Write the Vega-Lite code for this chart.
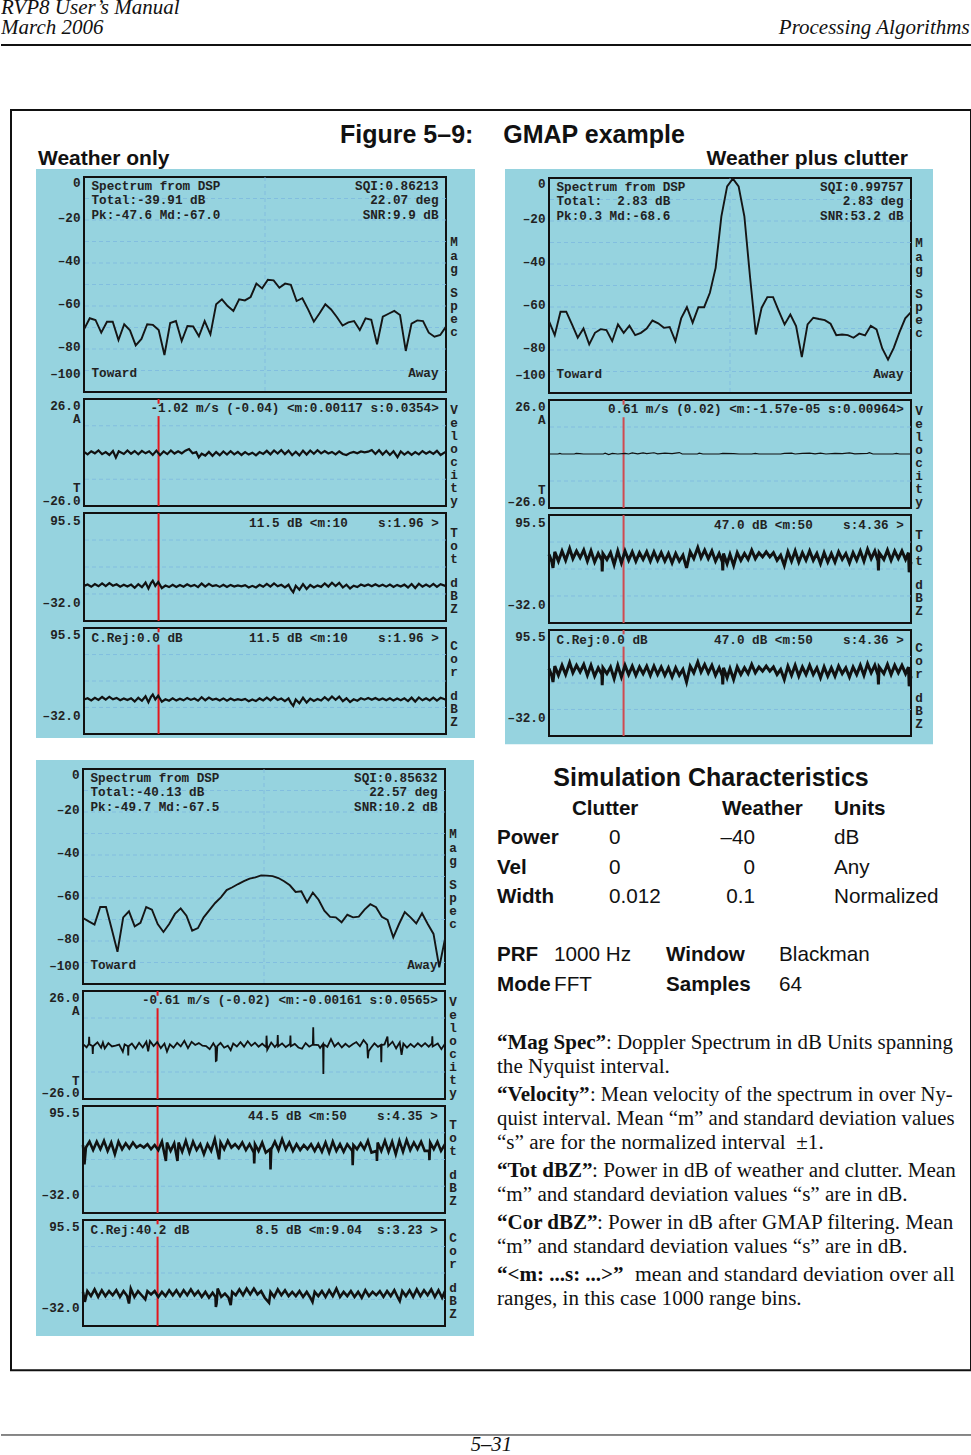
{"$schema":"https://vega.github.io/schema/vega-lite/v6.json","padding":0,"background":"white",
"config":{"text":{"baseline":"alphabetic"},"view":{"stroke":"#111","strokeWidth":2},"axis":{"domain":false,"ticks":false,"grid":false,"labelFont":"Liberation Mono","labelFontWeight":"bold","labelFontSize":12.65,"labelColor":"#222","labelPadding":4,"labelOverlap":false,"labelFlush":false,"labelBound":false},
"style":{"g":{"color":"#7db9de","strokeDash":[4,3],"strokeWidth":1,"opacity":0.8},"r":{"color":"#e3171d","strokeWidth":2},"t":{"color":"#111","strokeWidth":2.2},"m":{"color":"#151515","strokeWidth":1.9}}},
"datasets":{
"gm":[{"v":-10},{"v":-20},{"v":-30},{"v":-40},{"v":-50},{"v":-60},{"v":-70},{"v":-80},{"v":-90}],
"gx":[{"bin":31.5}],
"gv":[{"v":13},{"v":-13}],
"gp":[{"v":63.6},{"v":31.75},{"v":-0.1}],
"rv":[{"bin":206,"v":26,"v2":23.7},{"bin":206,"v":17.7,"v2":-26}],
"rp":[{"bin":206,"v":95.5,"v2":-32}],
"rc":[{"bin":206,"v":95.5,"v2":90.3},{"bin":206,"v":75.5,"v2":-32}],
"sm":[{"bin":63,"v":-27.6,"t":["M","a","g"]},{"bin":63,"v":-51,"t":["S","p","e","c"]}],
"sv":[{"bin":1000,"v":23.4,"t":["V","e","l","o","c","i","t","y"]}],
"sp":[{"bin":1000,"v":79.5,"t":["T","o","t"]},{"bin":1000,"v":19.9,"t":["d","B","Z"]}],
"sc":[{"bin":1000,"v":80.5,"t":["C","o","r"]},{"bin":1000,"v":20.5,"t":["d","B","Z"]}],
"L":[
{"p":"am","bin":1.3,"v":-1.5,"t":["Spectrum from DSP","Total:-39.91 dB","Pk:-47.6 Md:-67.0"]},{"p":"am","bin":1.3,"v":-88.5,"t":"Toward"},
{"p":"bm","bin":1.3,"v":-1.5,"t":["Spectrum from DSP","Total:\u00a0\u00a02.83 dB","Pk:0.3 Md:-68.6"]},{"p":"bm","bin":1.3,"v":-88.5,"t":"Toward"},
{"p":"cm","bin":1.3,"v":-1.5,"t":["Spectrum from DSP","Total:-40.13 dB","Pk:-49.7 Md:-67.5"]},{"p":"cm","bin":1.3,"v":-88.5,"t":"Toward"},
{"p":"ac","bin":21,"v":91,"t":"C.Rej:0.0 dB"},{"p":"bc","bin":21,"v":91,"t":"C.Rej:0.0 dB"},{"p":"cc","bin":21,"v":91,"t":"C.Rej:40.2 dB"}],
"R":[
{"p":"am","bin":61.7,"v":-1.5,"t":["SQI:0.86213","22.07 deg","SNR:9.9 dB"]},{"p":"am","bin":61.7,"v":-88.5,"t":"Away"},
{"p":"bm","bin":61.7,"v":-1.5,"t":["SQI:0.99757","2.83 deg","SNR:53.2 dB"]},{"p":"bm","bin":61.7,"v":-88.5,"t":"Away"},
{"p":"cm","bin":61.7,"v":-1.5,"t":["SQI:0.85632","22.57 deg","SNR:10.2 dB"]},{"p":"cm","bin":61.7,"v":-88.5,"t":"Away"},
{"p":"av","bin":980,"v":24.4,"t":"-1.02 m/s (-0.04) <m:0.00117 s:0.0354>"},
{"p":"ap","bin":980,"v":91,"t":"11.5 dB <m:10\u00a0\u00a0\u00a0\u00a0s:1.96 >"},{"p":"ac","bin":980,"v":91,"t":"11.5 dB <m:10\u00a0\u00a0\u00a0\u00a0s:1.96 >"},
{"p":"bv","bin":980,"v":24.4,"t":"0.61 m/s (0.02) <m:-1.57e-05 s:0.00964>"},
{"p":"bp","bin":980,"v":91,"t":"47.0 dB <m:50\u00a0\u00a0\u00a0\u00a0s:4.36 >"},{"p":"bc","bin":980,"v":91,"t":"47.0 dB <m:50\u00a0\u00a0\u00a0\u00a0s:4.36 >"},
{"p":"cv","bin":980,"v":24.4,"t":"-0.61 m/s (-0.02) <m:-0.00161 s:0.0565>"},
{"p":"cp","bin":980,"v":91,"t":"44.5 dB <m:50\u00a0\u00a0\u00a0\u00a0s:4.35 >"},{"p":"cc","bin":980,"v":91,"t":"8.5 dB <m:9.04\u00a0\u00a0s:3.23 >"}],
"am":[{"bin":0,"v":-70.9},{"bin":1,"v":-65.7},{"bin":2,"v":-66.5},{"bin":3,"v":-72.4},{"bin":4,"v":-67.3},{"bin":5,"v":-67.3},{"bin":6,"v":-75.8},{"bin":7,"v":-68.5},{"bin":8,"v":-71.3},{"bin":9,"v":-78.3},{"bin":10,"v":-75.3},{"bin":11,"v":-68.5},{"bin":12,"v":-68.8},{"bin":13,"v":-71.2},{"bin":14,"v":-82.8},{"bin":15,"v":-67.9},{"bin":16,"v":-67},{"bin":17,"v":-76.3},{"bin":18,"v":-69.3},{"bin":19,"v":-69.5},{"bin":20,"v":-74.1},{"bin":21,"v":-67},{"bin":22,"v":-73.2},{"bin":23,"v":-59.2},{"bin":24,"v":-56.9},{"bin":25,"v":-60},{"bin":26,"v":-62.3},{"bin":27,"v":-56.9},{"bin":28,"v":-57.4},{"bin":29,"v":-55.8},{"bin":30,"v":-49.6},{"bin":31,"v":-51.8},{"bin":32,"v":-47.8},{"bin":33,"v":-48.1},{"bin":34,"v":-51.5},{"bin":35,"v":-49.6},{"bin":36,"v":-50.2},{"bin":37,"v":-57.7},{"bin":38,"v":-56.4},{"bin":39,"v":-61.6},{"bin":40,"v":-67.3},{"bin":41,"v":-63.4},{"bin":42,"v":-59.2},{"bin":43,"v":-61.6},{"bin":44,"v":-65.1},{"bin":45,"v":-69.1},{"bin":46,"v":-67.6},{"bin":47,"v":-67},{"bin":48,"v":-71.2},{"bin":49,"v":-65.7},{"bin":50,"v":-66.4},{"bin":51,"v":-77.8},{"bin":52,"v":-65},{"bin":53,"v":-63.6},{"bin":54,"v":-62.3},{"bin":55,"v":-64.2},{"bin":56,"v":-80.9},{"bin":57,"v":-68.2},{"bin":58,"v":-66.7},{"bin":59,"v":-67},{"bin":60,"v":-72.4},{"bin":61,"v":-74.3},{"bin":62,"v":-73.5},{"bin":63,"v":-69.6}],
"bm":[{"bin":0,"v":-66.6},{"bin":1,"v":-73.1},{"bin":2,"v":-62.2},{"bin":3,"v":-62.2},{"bin":4,"v":-68.1},{"bin":5,"v":-74.3},{"bin":6,"v":-70},{"bin":7,"v":-77.4},{"bin":8,"v":-72},{"bin":9,"v":-70.3},{"bin":10,"v":-70.7},{"bin":11,"v":-75.9},{"bin":12,"v":-68.1},{"bin":13,"v":-72},{"bin":14,"v":-68.7},{"bin":15,"v":-73.1},{"bin":16,"v":-72},{"bin":17,"v":-70},{"bin":18,"v":-66.3},{"bin":19,"v":-67.6},{"bin":20,"v":-69.7},{"bin":21,"v":-69.3},{"bin":22,"v":-75.9},{"bin":23,"v":-65.3},{"bin":24,"v":-60.1},{"bin":25,"v":-67.3},{"bin":26,"v":-60.1},{"bin":27,"v":-60.1},{"bin":28,"v":-53.4},{"bin":29,"v":-41.8},{"bin":30,"v":-17.8},{"bin":31,"v":-3.9},{"bin":32,"v":-0.3},{"bin":33,"v":-3.9},{"bin":34,"v":-17.8},{"bin":35,"v":-46.4},{"bin":36,"v":-72.8},{"bin":37,"v":-60.4},{"bin":38,"v":-55.4},{"bin":39,"v":-55.4},{"bin":40,"v":-61.9},{"bin":41,"v":-68.1},{"bin":42,"v":-63.5},{"bin":43,"v":-68.9},{"bin":44,"v":-83.3},{"bin":45,"v":-68.1},{"bin":46,"v":-65},{"bin":47,"v":-65.6},{"bin":48,"v":-66.1},{"bin":49,"v":-67.8},{"bin":50,"v":-73.1},{"bin":51,"v":-72.8},{"bin":52,"v":-73.1},{"bin":53,"v":-74.3},{"bin":54,"v":-72.4},{"bin":55,"v":-73.2},{"bin":56,"v":-68.7},{"bin":57,"v":-70.4},{"bin":58,"v":-79.3},{"bin":59,"v":-84.5},{"bin":60,"v":-79},{"bin":61,"v":-71.7},{"bin":62,"v":-65.3},{"bin":63,"v":-62.4}],
"cm":[{"bin":0,"v":-69.3},{"bin":1,"v":-70.9},{"bin":2,"v":-72.4},{"bin":3,"v":-64.2},{"bin":4,"v":-64.2},{"bin":5,"v":-74.4},{"bin":6,"v":-85},{"bin":7,"v":-69},{"bin":8,"v":-66.2},{"bin":9,"v":-73.2},{"bin":10,"v":-71.6},{"bin":11,"v":-64.2},{"bin":12,"v":-65.4},{"bin":13,"v":-72.1},{"bin":14,"v":-75.8},{"bin":15,"v":-72.1},{"bin":16,"v":-67.4},{"bin":17,"v":-64.8},{"bin":18,"v":-68.2},{"bin":19,"v":-75.2},{"bin":20,"v":-74},{"bin":21,"v":-69},{"bin":22,"v":-65.6},{"bin":23,"v":-62.3},{"bin":24,"v":-59.7},{"bin":25,"v":-56.3},{"bin":26,"v":-55},{"bin":27,"v":-53.5},{"bin":28,"v":-52.2},{"bin":29,"v":-51},{"bin":30,"v":-50.4},{"bin":31,"v":-49.5},{"bin":32,"v":-49.6},{"bin":33,"v":-49.8},{"bin":34,"v":-50.7},{"bin":35,"v":-52.2},{"bin":36,"v":-54.1},{"bin":37,"v":-57.2},{"bin":38,"v":-56.9},{"bin":39,"v":-62},{"bin":40,"v":-57.5},{"bin":41,"v":-60.8},{"bin":42,"v":-65.9},{"bin":43,"v":-68.8},{"bin":44,"v":-69},{"bin":45,"v":-71.3},{"bin":46,"v":-67.8},{"bin":47,"v":-69},{"bin":48,"v":-68.7},{"bin":49,"v":-65.4},{"bin":50,"v":-62.9},{"bin":51,"v":-64.3},{"bin":52,"v":-68.7},{"bin":53,"v":-70.2},{"bin":54,"v":-78.3},{"bin":55,"v":-72.1},{"bin":56,"v":-66.5},{"bin":57,"v":-69},{"bin":58,"v":-71.8},{"bin":59,"v":-67.1},{"bin":60,"v":-72.1},{"bin":61,"v":-76.7},{"bin":62,"v":-92.2},{"bin":63,"v":-79}],
"av":[{"bin":0,"v":0.3},{"bin":10,"v":-0.9},{"bin":20,"v":0.6},{"bin":30,"v":-0.4},{"bin":40,"v":1},{"bin":50,"v":-0.8},{"bin":60,"v":0.2},{"bin":70,"v":-1.2},{"bin":80,"v":0.7},{"bin":88,"v":-2.5},{"bin":96,"v":0.6},{"bin":110,"v":-0.7},{"bin":120,"v":1},{"bin":130,"v":-0.6},{"bin":140,"v":0.7},{"bin":150,"v":-0.9},{"bin":160,"v":0.8},{"bin":170,"v":-0.4},{"bin":180,"v":0.6},{"bin":190,"v":-1.2},{"bin":200,"v":0.9},{"bin":210,"v":-1.3},{"bin":220,"v":0.5},{"bin":230,"v":-0.8},{"bin":240,"v":1},{"bin":250,"v":-0.5},{"bin":260,"v":0.6},{"bin":270,"v":-0.4},{"bin":280,"v":0.9},{"bin":290,"v":1.7},{"bin":300,"v":-0.4},{"bin":310,"v":0.2},{"bin":317,"v":-2.4},{"bin":325,"v":-0.6},{"bin":335,"v":-1.5},{"bin":345,"v":0.3},{"bin":355,"v":-1.6},{"bin":365,"v":0.2},{"bin":375,"v":-1.3},{"bin":385,"v":0.5},{"bin":395,"v":-1},{"bin":405,"v":0.6},{"bin":415,"v":-0.9},{"bin":425,"v":0.3},{"bin":435,"v":-1.2},{"bin":445,"v":0.2},{"bin":455,"v":-1},{"bin":465,"v":-0.1},{"bin":475,"v":-1.4},{"bin":485,"v":0.2},{"bin":495,"v":-0.7},{"bin":505,"v":0.8},{"bin":515,"v":-0.9},{"bin":525,"v":1},{"bin":535,"v":-0.5},{"bin":545,"v":1.2},{"bin":555,"v":-0.8},{"bin":565,"v":0.9},{"bin":575,"v":-1.3},{"bin":585,"v":0.4},{"bin":595,"v":-1.4},{"bin":605,"v":0.9},{"bin":615,"v":-1},{"bin":625,"v":1},{"bin":635,"v":-0.6},{"bin":645,"v":1.1},{"bin":655,"v":-0.4},{"bin":665,"v":0.7},{"bin":675,"v":-0.5},{"bin":685,"v":0.3},{"bin":695,"v":-0.9},{"bin":705,"v":0.5},{"bin":715,"v":-0.7},{"bin":725,"v":-1.2},{"bin":735,"v":-0.2},{"bin":745,"v":0.3},{"bin":755,"v":-0.4},{"bin":765,"v":0.5},{"bin":775,"v":0.1},{"bin":785,"v":0.4},{"bin":795,"v":1.2},{"bin":805,"v":-0.7},{"bin":815,"v":1.1},{"bin":825,"v":-1},{"bin":835,"v":0.8},{"bin":845,"v":-1.2},{"bin":855,"v":0.6},{"bin":866,"v":-2.3},{"bin":875,"v":0.5},{"bin":885,"v":-1},{"bin":895,"v":0.3},{"bin":905,"v":-1.1},{"bin":915,"v":0.2},{"bin":925,"v":-0.9},{"bin":935,"v":0.7},{"bin":945,"v":-0.6},{"bin":955,"v":0.5},{"bin":965,"v":-0.7},{"bin":975,"v":0.8},{"bin":985,"v":-1.2},{"bin":1000,"v":0.4}],
"ap":[{"bin":0,"v":9.5},{"bin":10,"v":11},{"bin":20,"v":8.4},{"bin":30,"v":11.6},{"bin":40,"v":9},{"bin":50,"v":12.5},{"bin":60,"v":9.3},{"bin":70,"v":12.8},{"bin":80,"v":9.7},{"bin":90,"v":11.4},{"bin":100,"v":8.6},{"bin":110,"v":10.8},{"bin":120,"v":8.8},{"bin":130,"v":11},{"bin":140,"v":7.2},{"bin":150,"v":11.5},{"bin":160,"v":8},{"bin":170,"v":13.4},{"bin":178,"v":6.3},{"bin":185,"v":12.7},{"bin":190,"v":15.5},{"bin":197,"v":9.5},{"bin":205,"v":14},{"bin":215,"v":6.8},{"bin":225,"v":9.8},{"bin":235,"v":8},{"bin":245,"v":10.8},{"bin":255,"v":8.2},{"bin":265,"v":10.5},{"bin":275,"v":8.5},{"bin":285,"v":11.4},{"bin":295,"v":9},{"bin":305,"v":10.6},{"bin":315,"v":8},{"bin":325,"v":12.2},{"bin":335,"v":8.6},{"bin":345,"v":11.8},{"bin":355,"v":9.2},{"bin":365,"v":10.4},{"bin":375,"v":8.3},{"bin":385,"v":10.8},{"bin":395,"v":8.1},{"bin":405,"v":10.6},{"bin":415,"v":8.6},{"bin":425,"v":10},{"bin":435,"v":8.9},{"bin":445,"v":10.3},{"bin":455,"v":7.5},{"bin":465,"v":9.5},{"bin":475,"v":7.6},{"bin":485,"v":10.8},{"bin":495,"v":8.4},{"bin":505,"v":11.8},{"bin":515,"v":8.5},{"bin":525,"v":12.3},{"bin":535,"v":9},{"bin":545,"v":10.7},{"bin":555,"v":7.6},{"bin":565,"v":10.8},{"bin":572,"v":5.2},{"bin":578,"v":1.8},{"bin":585,"v":9.5},{"bin":595,"v":5},{"bin":605,"v":11.6},{"bin":615,"v":5.8},{"bin":625,"v":10.5},{"bin":635,"v":7.7},{"bin":645,"v":10},{"bin":655,"v":8.3},{"bin":665,"v":12.3},{"bin":675,"v":8.6},{"bin":685,"v":13.2},{"bin":695,"v":9.2},{"bin":705,"v":13},{"bin":715,"v":7.5},{"bin":725,"v":10.9},{"bin":735,"v":6.4},{"bin":745,"v":9.7},{"bin":755,"v":8},{"bin":765,"v":11},{"bin":775,"v":9.3},{"bin":785,"v":11.2},{"bin":795,"v":9.1},{"bin":805,"v":11.4},{"bin":815,"v":9},{"bin":825,"v":10.8},{"bin":835,"v":8.6},{"bin":845,"v":11},{"bin":855,"v":8.2},{"bin":865,"v":10.6},{"bin":875,"v":8.7},{"bin":885,"v":10.9},{"bin":895,"v":7.6},{"bin":905,"v":11.7},{"bin":915,"v":7},{"bin":925,"v":12},{"bin":935,"v":8.6},{"bin":945,"v":11},{"bin":955,"v":8.4},{"bin":965,"v":11.8},{"bin":975,"v":8.2},{"bin":985,"v":11.5},{"bin":1000,"v":9.2}],
"bv":[{"bin":0,"v":0},{"bin":25,"v":0},{"bin":30,"v":0.3},{"bin":35,"v":0},{"bin":70,"v":0},{"bin":75,"v":0.3},{"bin":85,"v":0.2},{"bin":95,"v":0},{"bin":150,"v":0},{"bin":155,"v":0.4},{"bin":165,"v":-0.3},{"bin":175,"v":0.3},{"bin":190,"v":0},{"bin":210,"v":0.3},{"bin":220,"v":0},{"bin":230,"v":0.5},{"bin":245,"v":0.1},{"bin":260,"v":0.5},{"bin":270,"v":0.2},{"bin":290,"v":0.6},{"bin":300,"v":0.1},{"bin":320,"v":0.4},{"bin":340,"v":0.2},{"bin":360,"v":0.7},{"bin":368,"v":0},{"bin":410,"v":0},{"bin":415,"v":0.4},{"bin":425,"v":0},{"bin":470,"v":0},{"bin":480,"v":0.3},{"bin":510,"v":0.2},{"bin":525,"v":0},{"bin":560,"v":0},{"bin":570,"v":0.3},{"bin":580,"v":0},{"bin":640,"v":0},{"bin":650,"v":0.3},{"bin":670,"v":0.4},{"bin":680,"v":0},{"bin":700,"v":0.3},{"bin":720,"v":0.4},{"bin":735,"v":0.1},{"bin":750,"v":0.4},{"bin":765,"v":0},{"bin":790,"v":0.3},{"bin":810,"v":0.2},{"bin":830,"v":0.5},{"bin":845,"v":0.1},{"bin":880,"v":0.3},{"bin":885,"v":0.6},{"bin":895,"v":0},{"bin":950,"v":0},{"bin":960,"v":0.3},{"bin":968,"v":0},{"bin":1000,"v":0}],
"bp":[{"bin":0,"v":49},{"bin":8,"v":40},{"bin":11,"v":33},{"bin":16,"v":52},{"bin":26,"v":41},{"bin":36,"v":53},{"bin":46,"v":42},{"bin":57,"v":56},{"bin":66,"v":44},{"bin":76,"v":53},{"bin":86,"v":45},{"bin":96,"v":54},{"bin":106,"v":41},{"bin":116,"v":53},{"bin":126,"v":40},{"bin":136,"v":50},{"bin":146,"v":42},{"bin":147,"v":29},{"bin":149,"v":50},{"bin":160,"v":43},{"bin":170,"v":51},{"bin":180,"v":37},{"bin":190,"v":53},{"bin":200,"v":39},{"bin":210,"v":53},{"bin":220,"v":42},{"bin":230,"v":52},{"bin":240,"v":41},{"bin":250,"v":51},{"bin":260,"v":43},{"bin":270,"v":52},{"bin":280,"v":41},{"bin":290,"v":52},{"bin":300,"v":42},{"bin":310,"v":51},{"bin":320,"v":41},{"bin":330,"v":50},{"bin":340,"v":39},{"bin":350,"v":50},{"bin":360,"v":41},{"bin":370,"v":48},{"bin":380,"v":33},{"bin":390,"v":52},{"bin":400,"v":44},{"bin":411,"v":57},{"bin":420,"v":45},{"bin":430,"v":54},{"bin":440,"v":44},{"bin":450,"v":53},{"bin":460,"v":41},{"bin":470,"v":50},{"bin":479,"v":40},{"bin":480,"v":30},{"bin":482,"v":50},{"bin":492,"v":38},{"bin":500,"v":49},{"bin":510,"v":36},{"bin":520,"v":51},{"bin":530,"v":42},{"bin":540,"v":50},{"bin":550,"v":43},{"bin":560,"v":54},{"bin":570,"v":44},{"bin":580,"v":51},{"bin":590,"v":46},{"bin":600,"v":52},{"bin":610,"v":46},{"bin":620,"v":51},{"bin":630,"v":42},{"bin":640,"v":48},{"bin":650,"v":36},{"bin":660,"v":52},{"bin":670,"v":41},{"bin":680,"v":53},{"bin":690,"v":40},{"bin":700,"v":51},{"bin":710,"v":42},{"bin":720,"v":53},{"bin":730,"v":42},{"bin":740,"v":50},{"bin":750,"v":38},{"bin":760,"v":51},{"bin":770,"v":40},{"bin":780,"v":50},{"bin":790,"v":40},{"bin":800,"v":52},{"bin":810,"v":43},{"bin":820,"v":50},{"bin":830,"v":39},{"bin":840,"v":51},{"bin":850,"v":42},{"bin":860,"v":53},{"bin":870,"v":41},{"bin":880,"v":55},{"bin":890,"v":44},{"bin":900,"v":53},{"bin":909,"v":41},{"bin":910,"v":30},{"bin":912,"v":51},{"bin":925,"v":43},{"bin":935,"v":54},{"bin":945,"v":42},{"bin":955,"v":53},{"bin":965,"v":44},{"bin":975,"v":53},{"bin":985,"v":43},{"bin":993,"v":51},{"bin":995,"v":28},{"bin":1000,"v":40}],
"cv":[{"bin":0,"v":0.4},{"bin":10,"v":-1.1},{"bin":16,"v":0.5},{"bin":17,"v":4},{"bin":18,"v":0.3},{"bin":26,"v":-0.5},{"bin":27,"v":-4.3},{"bin":28,"v":-0.6},{"bin":40,"v":1.3},{"bin":50,"v":-1.3},{"bin":55,"v":1.2},{"bin":60,"v":-1.7},{"bin":70,"v":0.9},{"bin":80,"v":-0.7},{"bin":90,"v":-0.3},{"bin":100,"v":0.2},{"bin":110,"v":-3.2},{"bin":115,"v":0.3},{"bin":124,"v":-0.6},{"bin":125,"v":-5},{"bin":126,"v":-0.6},{"bin":135,"v":0.7},{"bin":145,"v":-1.7},{"bin":155,"v":1.1},{"bin":165,"v":-1.2},{"bin":175,"v":1.6},{"bin":180,"v":-3},{"bin":185,"v":1.9},{"bin":195,"v":-0.5},{"bin":205,"v":1.4},{"bin":215,"v":-1.5},{"bin":225,"v":0.7},{"bin":232,"v":-3.2},{"bin":240,"v":0.3},{"bin":250,"v":-1.3},{"bin":260,"v":1},{"bin":270,"v":-0.7},{"bin":280,"v":2},{"bin":290,"v":-1.5},{"bin":300,"v":1.5},{"bin":310,"v":0},{"bin":320,"v":0.9},{"bin":330,"v":-0.3},{"bin":340,"v":-0.5},{"bin":350,"v":-2},{"bin":360,"v":0.8},{"bin":366,"v":-1},{"bin":367,"v":-7.7},{"bin":369,"v":-7.5},{"bin":371,"v":-0.5},{"bin":380,"v":1},{"bin":390,"v":-1.3},{"bin":400,"v":-0.3},{"bin":408,"v":-2.5},{"bin":415,"v":0.7},{"bin":425,"v":-0.7},{"bin":435,"v":1.4},{"bin":445,"v":-0.8},{"bin":455,"v":1.8},{"bin":465,"v":-0.4},{"bin":475,"v":1.1},{"bin":485,"v":-0.8},{"bin":495,"v":0.6},{"bin":506,"v":-1},{"bin":507,"v":4.5},{"bin":509,"v":-2.3},{"bin":520,"v":1.2},{"bin":530,"v":-1},{"bin":537,"v":0.5},{"bin":538,"v":4.8},{"bin":539,"v":-0.7},{"bin":550,"v":0.8},{"bin":560,"v":-1},{"bin":572,"v":0.5},{"bin":573,"v":4.5},{"bin":574,"v":-0.6},{"bin":585,"v":0.5},{"bin":595,"v":-1.2},{"bin":605,"v":-1.8},{"bin":615,"v":0.9},{"bin":625,"v":-0.8},{"bin":635,"v":0.2},{"bin":636,"v":8.5},{"bin":637,"v":0.2},{"bin":650,"v":0},{"bin":655,"v":-1.4},{"bin":663,"v":0.5},{"bin":664,"v":-14},{"bin":665,"v":0.4},{"bin":675,"v":-0.9},{"bin":685,"v":2.8},{"bin":695,"v":-0.7},{"bin":705,"v":1},{"bin":715,"v":-1.2},{"bin":725,"v":0.6},{"bin":735,"v":-0.9},{"bin":745,"v":0.4},{"bin":755,"v":1.4},{"bin":765,"v":-0.6},{"bin":775,"v":2.4},{"bin":785,"v":0.2},{"bin":787,"v":-6.4},{"bin":789,"v":-3},{"bin":795,"v":-1.4},{"bin":805,"v":0.8},{"bin":815,"v":-0.9},{"bin":823,"v":0},{"bin":824,"v":-8.3},{"bin":825,"v":0},{"bin":833,"v":0.3},{"bin":841,"v":4},{"bin":843,"v":-0.6},{"bin":855,"v":1.6},{"bin":865,"v":-1.6},{"bin":875,"v":1.3},{"bin":880,"v":-4.8},{"bin":885,"v":0.7},{"bin":895,"v":-1.3},{"bin":905,"v":0.5},{"bin":915,"v":-1},{"bin":925,"v":0.8},{"bin":935,"v":-0.7},{"bin":945,"v":0.9},{"bin":955,"v":-0.8},{"bin":964,"v":0.8},{"bin":965,"v":4.2},{"bin":966,"v":-0.7},{"bin":980,"v":0.7},{"bin":990,"v":-2},{"bin":1000,"v":0.6}],
"cp":[{"bin":0,"v":49},{"bin":4,"v":26},{"bin":8,"v":46},{"bin":18,"v":53},{"bin":28,"v":43},{"bin":38,"v":53},{"bin":48,"v":44},{"bin":58,"v":54},{"bin":68,"v":42},{"bin":78,"v":52},{"bin":88,"v":38},{"bin":98,"v":53},{"bin":108,"v":44},{"bin":118,"v":51},{"bin":128,"v":45},{"bin":138,"v":52},{"bin":148,"v":46},{"bin":158,"v":49},{"bin":168,"v":46},{"bin":178,"v":50},{"bin":188,"v":44},{"bin":198,"v":49},{"bin":208,"v":43},{"bin":218,"v":53},{"bin":229,"v":30},{"bin":232,"v":52},{"bin":242,"v":42},{"bin":252,"v":51},{"bin":261,"v":30},{"bin":264,"v":52},{"bin":274,"v":41},{"bin":284,"v":54},{"bin":294,"v":40},{"bin":304,"v":53},{"bin":314,"v":43},{"bin":324,"v":50},{"bin":334,"v":38},{"bin":344,"v":50},{"bin":354,"v":42},{"bin":364,"v":56},{"bin":376,"v":32},{"bin":380,"v":52},{"bin":390,"v":44},{"bin":400,"v":54},{"bin":410,"v":46},{"bin":420,"v":50},{"bin":430,"v":45},{"bin":440,"v":52},{"bin":450,"v":43},{"bin":460,"v":50},{"bin":472,"v":40},{"bin":473,"v":27},{"bin":475,"v":50},{"bin":485,"v":42},{"bin":495,"v":52},{"bin":505,"v":40},{"bin":517,"v":44},{"bin":518,"v":20},{"bin":520,"v":44},{"bin":530,"v":53},{"bin":540,"v":43},{"bin":550,"v":56},{"bin":560,"v":44},{"bin":570,"v":52},{"bin":580,"v":42},{"bin":590,"v":50},{"bin":600,"v":43},{"bin":610,"v":49},{"bin":620,"v":44},{"bin":630,"v":50},{"bin":640,"v":42},{"bin":650,"v":50},{"bin":660,"v":41},{"bin":670,"v":52},{"bin":680,"v":40},{"bin":690,"v":53},{"bin":700,"v":42},{"bin":710,"v":50},{"bin":720,"v":41},{"bin":730,"v":50},{"bin":744,"v":42},{"bin":745,"v":25},{"bin":747,"v":49},{"bin":757,"v":44},{"bin":767,"v":51},{"bin":777,"v":44},{"bin":787,"v":54},{"bin":797,"v":40},{"bin":811,"v":42},{"bin":812,"v":30},{"bin":814,"v":52},{"bin":824,"v":42},{"bin":834,"v":54},{"bin":844,"v":41},{"bin":854,"v":53},{"bin":864,"v":38},{"bin":874,"v":54},{"bin":884,"v":41},{"bin":894,"v":55},{"bin":904,"v":43},{"bin":914,"v":52},{"bin":924,"v":44},{"bin":934,"v":53},{"bin":944,"v":42},{"bin":956,"v":42},{"bin":957,"v":31},{"bin":959,"v":52},{"bin":969,"v":44},{"bin":979,"v":53},{"bin":989,"v":42},{"bin":1000,"v":50}],
"cc":[{"bin":0,"v":9},{"bin":5,"v":-3},{"bin":12,"v":10},{"bin":22,"v":4},{"bin":32,"v":12},{"bin":42,"v":3},{"bin":52,"v":11},{"bin":62,"v":4},{"bin":72,"v":10},{"bin":82,"v":5},{"bin":92,"v":11},{"bin":102,"v":3},{"bin":112,"v":10},{"bin":122,"v":4},{"bin":127,"v":-5},{"bin":132,"v":13},{"bin":142,"v":3},{"bin":152,"v":10},{"bin":162,"v":5},{"bin":172,"v":0},{"bin":178,"v":10},{"bin":188,"v":6},{"bin":198,"v":10},{"bin":208,"v":3},{"bin":218,"v":9},{"bin":228,"v":4},{"bin":238,"v":11},{"bin":248,"v":5},{"bin":258,"v":11},{"bin":268,"v":4},{"bin":278,"v":11},{"bin":288,"v":5},{"bin":298,"v":12},{"bin":308,"v":5},{"bin":318,"v":10},{"bin":328,"v":3},{"bin":338,"v":9},{"bin":348,"v":2},{"bin":358,"v":8},{"bin":366,"v":3},{"bin":367,"v":-9},{"bin":369,"v":-5},{"bin":372,"v":13},{"bin":382,"v":3},{"bin":392,"v":7},{"bin":402,"v":2},{"bin":408,"v":-7},{"bin":412,"v":9},{"bin":422,"v":5},{"bin":432,"v":12},{"bin":442,"v":5},{"bin":452,"v":13},{"bin":462,"v":6},{"bin":472,"v":13},{"bin":482,"v":6},{"bin":492,"v":10},{"bin":502,"v":2},{"bin":514,"v":-4},{"bin":518,"v":9},{"bin":528,"v":3},{"bin":538,"v":12},{"bin":548,"v":5},{"bin":558,"v":11},{"bin":568,"v":4},{"bin":578,"v":9},{"bin":588,"v":4},{"bin":598,"v":10},{"bin":608,"v":3},{"bin":618,"v":9},{"bin":628,"v":2},{"bin":634,"v":-3},{"bin":640,"v":9},{"bin":650,"v":4},{"bin":660,"v":10},{"bin":670,"v":3},{"bin":680,"v":11},{"bin":690,"v":4},{"bin":700,"v":13},{"bin":710,"v":3},{"bin":720,"v":9},{"bin":730,"v":4},{"bin":740,"v":10},{"bin":750,"v":3},{"bin":760,"v":9},{"bin":770,"v":2},{"bin":780,"v":11},{"bin":790,"v":4},{"bin":800,"v":9},{"bin":810,"v":5},{"bin":820,"v":10},{"bin":830,"v":3},{"bin":840,"v":10},{"bin":850,"v":4},{"bin":860,"v":11},{"bin":870,"v":2},{"bin":875,"v":-2},{"bin":882,"v":10},{"bin":892,"v":4},{"bin":902,"v":11},{"bin":912,"v":3},{"bin":922,"v":12},{"bin":932,"v":4},{"bin":942,"v":11},{"bin":952,"v":5},{"bin":962,"v":12},{"bin":972,"v":3},{"bin":982,"v":11},{"bin":992,"v":2},{"bin":1000,"v":10}],
"T":[{"c":"h","line":0,"t":"Simulation Characteristics"},{"c":"b0","line":2,"t":"Power"},{"c":"b0","line":3,"t":"Vel"},{"c":"b0","line":4,"t":"Width"},{"c":"b0","line":6,"t":"PRF"},{"c":"b0","line":7,"t":"Mode"},{"c":"h1","line":1,"t":"Clutter"},{"c":"h2","line":1,"t":"Weather"},{"c":"h3","line":1,"t":"Units"},{"c":"r1","line":2,"t":"0"},{"c":"r1","line":3,"t":"0"},{"c":"r1","line":4,"t":"0.012"},{"c":"r2","line":2,"t":"–40"},{"c":"r2","line":3,"t":"0"},{"c":"r2","line":4,"t":"0.1"},{"c":"h3r","line":2,"t":"dB"},{"c":"h3r","line":3,"t":"Any"},{"c":"h3r","line":4,"t":"Normalized"},{"c":"v1","line":6,"t":"1000 Hz"},{"c":"v1","line":7,"t":"FFT"},{"c":"b2","line":6,"t":"Window"},{"c":"b2","line":7,"t":"Samples"},{"c":"v2","line":6,"t":"Blackman"},{"c":"v2","line":7,"t":"64"}],
"P":[{"line":0,"t":": Doppler Spectrum in dB Units spanning","c":"a"},{"line":0,"t":"“Mag Spec”","c":"A"},{"line":1,"t":"the Nyquist interval.","c":"n"},{"line":2.17,"t":": Mean velocity of the spectrum in over Ny-","c":"b"},{"line":2.17,"t":"“Velocity”","c":"A"},{"line":3.17,"t":"quist interval. Mean “m” and standard deviation values","c":"q"},{"line":4.17,"t":"“s” are for the normalized interval\u00a0 ±1.","c":"n"},{"line":5.33,"t":": Power in dB of weather and clutter. Mean","c":"d"},{"line":5.33,"t":"“Tot dBZ”","c":"A"},{"line":6.33,"t":"“m” and standard deviation values “s” are in dB.","c":"n"},{"line":7.5,"t":": Power in dB after GMAP filtering. Mean","c":"e"},{"line":7.5,"t":"“Cor dBZ”","c":"A"},{"line":8.5,"t":"“m” and standard deviation values “s” are in dB.","c":"n"},{"line":9.67,"t":"mean and standard deviation over all","c":"f"},{"line":9.67,"t":"“<m: ...s: ...>”","c":"A"},{"line":10.67,"t":"ranges, in this case 1000 range bins.","c":"n"}]
},
"spacing":55,
"vconcat":[
{"width":971,"height":45,"view":{"stroke":null},"encoding":{"x":{"datum":0,"type":"quantitative","scale":{"domain":[0,1]},"axis":null},"y":{"datum":0.689,"type":"quantitative","scale":{"domain":[0,1]},"axis":null}},"layer":[
{"data":{"values":[{"t":["RVP8 User’s Manual","March 2006"]}]},"mark":{"type":"text","clip":true,"align":"left","font":"Liberation Serif","fontStyle":"italic","fontSize":21,"lineHeight":20,"fill":"#111"},"encoding":{"text":{"field":"t"}}},
{"data":{"values":[{"t":["Processing Algorithms"]}]},"mark":{"type":"text","clip":true,"align":"right","font":"Liberation Serif","fontStyle":"italic","fontSize":21,"fill":"#111"},"encoding":{"x":{"datum":0.9975},"y":{"datum":0.245},"text":{"field":"t"}}},
{"data":{"values":[{"t":"rule"}]},"mark":{"type":"rule","stroke":"#111","strokeWidth":2},"encoding":{"x":null,"y":{"datum":0}}}
]},
{"spacing":0,"hconcat":[
{"width":8.5,"height":1,"view":{"stroke":null},"data":{"values":[{"t":""}]},"mark":"text","encoding":{"text":{"field":"t"}}},
{"spacing":0,"bounds":"flush","vconcat":[
{"width":960,"height":59,"view":{"stroke":null},"encoding":{"x":{"datum":0.5,"type":"quantitative","scale":{"domain":[0,1]},"axis":null},"y":{"datum":0.5,"type":"quantitative","scale":{"domain":[1,0]},"axis":null}},"layer":[
{"data":{"values":[{"t":"frame"}]},"mark":{"type":"rect","fill":"white","stroke":"#111","strokeWidth":2},"encoding":{"x":{"datum":0},"x2":{"datum":1},"y":{"datum":0},"y2":{"datum":21.36}}},
{"data":{"values":[{"t":"Figure 5–9:\u00a0\u00a0\u00a0\u00a0\u200aGMAP example"}]},"mark":{"type":"text","align":"left","font":"Liberation Sans","fontWeight":"bold","fontSize":25,"fill":"#111"},"encoding":{"x":{"datum":0.3427},"y":{"datum":0.565},"text":{"field":"t"}}},
{"data":{"values":[{"t":"Weather only"}]},"mark":{"type":"text","align":"left","font":"Liberation Sans","fontWeight":"bold","fontSize":21,"fill":"#111"},"encoding":{"x":{"datum":0.0281},"y":{"datum":0.932},"text":{"field":"t"}}},
{"data":{"values":[{"t":"Weather plus clutter"}]},"mark":{"type":"text","align":"right","font":"Liberation Sans","fontWeight":"bold","fontSize":21,"fill":"#111"},"encoding":{"x":{"datum":0.9344},"y":{"datum":0.932},"text":{"field":"t"}}}
]},
{"spacing":22,"hconcat":[
{"width":2.5,"height":1,"view":{"stroke":null},"data":{"values":[{"t":""}]},"mark":"text","encoding":{"text":{"field":"t"}}},
{"spacing":21,"vconcat":[
{"spacing":0,"bounds":"flush","vconcat":[
{"width":439,"height":7.7,"view":{"stroke":null},"data":{"values":[{"t":"panel"}]},"mark":{"type":"rect","fill":"#96d3df"},"encoding":{"x":{"datum":0,"type":"quantitative","scale":{"domain":[0,1]},"axis":null},"x2":{"datum":1},"y":{"datum":0,"type":"quantitative","scale":{"domain":[1,0]},"axis":null},"y2":{"datum":73.9}}},
{"spacing":0,"hconcat":[
{"width":5,"height":1,"view":{"stroke":null},"data":{"values":[{"t":""}]},"mark":"text","encoding":{"text":{"field":"t"}}},
{"spacing":7,"bounds":"flush","vconcat":[
{"width":362,"height":215,"encoding":{"x":{"field":"bin","type":"quantitative","scale":{"domain":[0,63]},"axis":null},"y":{"field":"v","type":"quantitative","scale":{"domain":[-100,0]},"axis":{"title":null,"values":[-2.6,-19,-39,-59,-79,-91.4],"labelExpr":"datum.value>-5?'0':datum.value<-90?'–100':'–'+(-datum.value+1)"}},"text":{"field":"t"}},"layer":[
{"data":{"name":"gm"},"mark":{"type":"rule","style":"g"},"encoding":{"x":null}},{"data":{"name":"gx"},"mark":{"type":"rule","style":"g"},"encoding":{"y":null}},
{"data":{"name":"am"},"mark":{"type":"line","style":"m"}},
{"data":{"name":"L"},"transform":[{"filter":"datum.p=='am'"}],"mark":{"type":"text","align":"left","baseline":"top","font":"Liberation Mono","fontWeight":"bold","fontSize":12.65,"lineHeight":14.2,"fill":"#222"}},
{"data":{"name":"R"},"transform":[{"filter":"datum.p=='am'"}],"mark":{"type":"text","align":"right","baseline":"top","font":"Liberation Mono","fontWeight":"bold","fontSize":12.65,"lineHeight":14.2,"fill":"#222"}},
{"data":{"name":"sm"},"mark":{"type":"text","dx":8,"baseline":"top","font":"Liberation Mono","fontWeight":"bold","fontSize":12.65,"lineHeight":13.2,"fill":"#222"}}
]},
{"width":362,"height":107,"encoding":{"x":{"field":"bin","type":"quantitative","scale":{"domain":[0,1000]},"axis":null},"y":{"field":"v","type":"quantitative","scale":{"domain":[-26,26]},"axis":{"title":null,"values":[23,16.6,-16.9,-23.1],"labelExpr":"datum.value>20?'26.0':datum.value>0?'A':datum.value>-20?'T':'–26.0'"}},"text":{"field":"t"}},"layer":[
{"data":{"name":"gv"},"mark":{"type":"rule","style":"g"},"encoding":{"x":null}},
{"data":{"name":"rv"},"mark":{"type":"rule","style":"r"},"encoding":{"y2":{"field":"v2"}}},
{"data":{"name":"av"},"mark":{"type":"line","style":"t"}},
{"data":{"name":"R"},"transform":[{"filter":"datum.p=='av'"}],"mark":{"type":"text","align":"right","baseline":"top","font":"Liberation Mono","fontWeight":"bold","fontSize":12.65,"fill":"#222"}},
{"data":{"name":"sv"},"mark":{"type":"text","dx":8,"baseline":"top","font":"Liberation Mono","fontWeight":"bold","fontSize":12.65,"lineHeight":13,"fill":"#222"}}
]},
{"width":362,"height":108,"encoding":{"x":{"field":"bin","type":"quantitative","scale":{"domain":[0,1000]},"axis":null},"y":{"field":"v","type":"quantitative","scale":{"domain":[-32,95.5]},"axis":{"title":null,"values":[87.2,-9.6],"labelExpr":"datum.value>0?'95.5':'–32.0'"}},"text":{"field":"t"}},"layer":[
{"data":{"name":"gp"},"mark":{"type":"rule","style":"g"},"encoding":{"x":null}},
{"data":{"name":"rp"},"mark":{"type":"rule","style":"r"},"encoding":{"y2":{"field":"v2"}}},
{"data":{"name":"ap"},"mark":{"type":"line","style":"t"}},
{"data":{"name":"R"},"transform":[{"filter":"datum.p=='ap'"}],"mark":{"type":"text","align":"right","baseline":"top","font":"Liberation Mono","fontWeight":"bold","fontSize":12.65,"fill":"#222"}},
{"data":{"name":"sp"},"mark":{"type":"text","dx":8,"baseline":"top","font":"Liberation Mono","fontWeight":"bold","fontSize":12.65,"lineHeight":13,"fill":"#222"}}
]},
{"width":362,"height":106,"encoding":{"x":{"field":"bin","type":"quantitative","scale":{"domain":[0,1000]},"axis":null},"y":{"field":"v","type":"quantitative","scale":{"domain":[-32,95.5]},"axis":{"title":null,"values":[87.2,-9.6],"labelExpr":"datum.value>0?'95.5':'–32.0'"}},"text":{"field":"t"}},"layer":[
{"data":{"name":"gp"},"mark":{"type":"rule","style":"g"},"encoding":{"x":null}},
{"data":{"name":"rc"},"mark":{"type":"rule","style":"r"},"encoding":{"y2":{"field":"v2"}}},
{"data":{"name":"ap"},"mark":{"type":"line","style":"t"}},
{"data":{"name":"L"},"transform":[{"filter":"datum.p=='ac'"}],"mark":{"type":"text","align":"left","baseline":"top","font":"Liberation Mono","fontWeight":"bold","fontSize":12.65,"fill":"#222"}},
{"data":{"name":"R"},"transform":[{"filter":"datum.p=='ac'"}],"mark":{"type":"text","align":"right","baseline":"top","font":"Liberation Mono","fontWeight":"bold","fontSize":12.65,"fill":"#222"}},
{"data":{"name":"sc"},"mark":{"type":"text","dx":8,"baseline":"top","font":"Liberation Mono","fontWeight":"bold","fontSize":12.65,"lineHeight":13,"fill":"#222"}}
]}
]}
]}
]},
{"spacing":0,"bounds":"flush","vconcat":[
{"width":438,"height":9,"view":{"stroke":null},"data":{"values":[{"t":"panel"}]},"mark":{"type":"rect","fill":"#96d3df"},"encoding":{"x":{"datum":0,"type":"quantitative","scale":{"domain":[0,1]},"axis":null},"x2":{"datum":1},"y":{"datum":0,"type":"quantitative","scale":{"domain":[1,0]},"axis":null},"y2":{"datum":64}}},
{"spacing":0,"hconcat":[
{"width":4,"height":1,"view":{"stroke":null},"data":{"values":[{"t":""}]},"mark":"text","encoding":{"text":{"field":"t"}}},
{"spacing":7,"bounds":"flush","vconcat":[
{"width":362,"height":215,"encoding":{"x":{"field":"bin","type":"quantitative","scale":{"domain":[0,63]},"axis":null},"y":{"field":"v","type":"quantitative","scale":{"domain":[-100,0]},"axis":{"title":null,"values":[-2.6,-19,-39,-59,-79,-91.4],"labelExpr":"datum.value>-5?'0':datum.value<-90?'–100':'–'+(-datum.value+1)"}},"text":{"field":"t"}},"layer":[
{"data":{"name":"gm"},"mark":{"type":"rule","style":"g"},"encoding":{"x":null}},{"data":{"name":"gx"},"mark":{"type":"rule","style":"g"},"encoding":{"y":null}},
{"data":{"name":"cm"},"mark":{"type":"line","style":"m"}},
{"data":{"name":"L"},"transform":[{"filter":"datum.p=='cm'"}],"mark":{"type":"text","align":"left","baseline":"top","font":"Liberation Mono","fontWeight":"bold","fontSize":12.65,"lineHeight":14.2,"fill":"#222"}},
{"data":{"name":"R"},"transform":[{"filter":"datum.p=='cm'"}],"mark":{"type":"text","align":"right","baseline":"top","font":"Liberation Mono","fontWeight":"bold","fontSize":12.65,"lineHeight":14.2,"fill":"#222"}},
{"data":{"name":"sm"},"mark":{"type":"text","dx":8,"baseline":"top","font":"Liberation Mono","fontWeight":"bold","fontSize":12.65,"lineHeight":13.2,"fill":"#222"}}
]},
{"width":362,"height":108,"encoding":{"x":{"field":"bin","type":"quantitative","scale":{"domain":[0,1000]},"axis":null},"y":{"field":"v","type":"quantitative","scale":{"domain":[-26,26]},"axis":{"title":null,"values":[23,16.6,-16.9,-23.1],"labelExpr":"datum.value>20?'26.0':datum.value>0?'A':datum.value>-20?'T':'–26.0'"}},"text":{"field":"t"}},"layer":[
{"data":{"name":"gv"},"mark":{"type":"rule","style":"g"},"encoding":{"x":null}},
{"data":{"name":"rv"},"mark":{"type":"rule","style":"r"},"encoding":{"y2":{"field":"v2"}}},
{"data":{"name":"cv"},"mark":{"type":"line","style":"t","strokeWidth":1.8}},
{"data":{"name":"R"},"transform":[{"filter":"datum.p=='cv'"}],"mark":{"type":"text","align":"right","baseline":"top","font":"Liberation Mono","fontWeight":"bold","fontSize":12.65,"fill":"#222"}},
{"data":{"name":"sv"},"mark":{"type":"text","dx":8,"baseline":"top","font":"Liberation Mono","fontWeight":"bold","fontSize":12.65,"lineHeight":13,"fill":"#222"}}
]},
{"width":362,"height":107,"encoding":{"x":{"field":"bin","type":"quantitative","scale":{"domain":[0,1000]},"axis":null},"y":{"field":"v","type":"quantitative","scale":{"domain":[-32,95.5]},"axis":{"title":null,"values":[87.2,-9.6],"labelExpr":"datum.value>0?'95.5':'–32.0'"}},"text":{"field":"t"}},"layer":[
{"data":{"name":"gp"},"mark":{"type":"rule","style":"g"},"encoding":{"x":null}},
{"data":{"name":"rp"},"mark":{"type":"rule","style":"r"},"encoding":{"y2":{"field":"v2"}}},
{"data":{"name":"cp"},"mark":{"type":"line","style":"t","strokeWidth":2.6}},
{"data":{"name":"R"},"transform":[{"filter":"datum.p=='cp'"}],"mark":{"type":"text","align":"right","baseline":"top","font":"Liberation Mono","fontWeight":"bold","fontSize":12.65,"fill":"#222"}},
{"data":{"name":"sp"},"mark":{"type":"text","dx":8,"baseline":"top","font":"Liberation Mono","fontWeight":"bold","fontSize":12.65,"lineHeight":13,"fill":"#222"}}
]},
{"width":362,"height":106,"encoding":{"x":{"field":"bin","type":"quantitative","scale":{"domain":[0,1000]},"axis":null},"y":{"field":"v","type":"quantitative","scale":{"domain":[-32,95.5]},"axis":{"title":null,"values":[87.2,-9.6],"labelExpr":"datum.value>0?'95.5':'–32.0'"}},"text":{"field":"t"}},"layer":[
{"data":{"name":"gp"},"mark":{"type":"rule","style":"g"},"encoding":{"x":null}},
{"data":{"name":"rc"},"mark":{"type":"rule","style":"r"},"encoding":{"y2":{"field":"v2"}}},
{"data":{"name":"cc"},"mark":{"type":"line","style":"t","strokeWidth":2.6}},
{"data":{"name":"L"},"transform":[{"filter":"datum.p=='cc'"}],"mark":{"type":"text","align":"left","baseline":"top","font":"Liberation Mono","fontWeight":"bold","fontSize":12.65,"fill":"#222"}},
{"data":{"name":"R"},"transform":[{"filter":"datum.p=='cc'"}],"mark":{"type":"text","align":"right","baseline":"top","font":"Liberation Mono","fontWeight":"bold","fontSize":12.65,"fill":"#222"}},
{"data":{"name":"sc"},"mark":{"type":"text","dx":8,"baseline":"top","font":"Liberation Mono","fontWeight":"bold","fontSize":12.65,"lineHeight":13,"fill":"#222"}}
]}
]}
]}
]}
]},
{"spacing":5,"vconcat":[
{"spacing":0,"hconcat":[
{"width":8,"height":1,"view":{"stroke":null},"data":{"values":[{"t":""}]},"mark":"text","encoding":{"text":{"field":"t"}}},
{"spacing":0,"bounds":"flush","vconcat":[
{"width":428,"height":8.3,"view":{"stroke":null},"data":{"values":[{"t":"panel"}]},"mark":{"type":"rect","fill":"#96d3df"},"encoding":{"x":{"datum":0,"type":"quantitative","scale":{"domain":[0,1]},"axis":null},"x2":{"datum":1},"y":{"datum":0,"type":"quantitative","scale":{"domain":[1,0]},"axis":null},"y2":{"datum":69.3}}},
{"spacing":0,"hconcat":[
{"width":0.4,"height":1,"view":{"stroke":null},"data":{"values":[{"t":""}]},"mark":"text","encoding":{"text":{"field":"t"}}},
{"spacing":7,"bounds":"flush","vconcat":[
{"width":362,"height":215,"encoding":{"x":{"field":"bin","type":"quantitative","scale":{"domain":[0,63]},"axis":null},"y":{"field":"v","type":"quantitative","scale":{"domain":[-100,0]},"axis":{"title":null,"values":[-2.6,-19,-39,-59,-79,-91.4],"labelExpr":"datum.value>-5?'0':datum.value<-90?'–100':'–'+(-datum.value+1)"}},"text":{"field":"t"}},"layer":[
{"data":{"name":"gm"},"mark":{"type":"rule","style":"g"},"encoding":{"x":null}},{"data":{"name":"gx"},"mark":{"type":"rule","style":"g"},"encoding":{"y":null}},
{"data":{"name":"bm"},"mark":{"type":"line","style":"m"}},
{"data":{"name":"L"},"transform":[{"filter":"datum.p=='bm'"}],"mark":{"type":"text","align":"left","baseline":"top","font":"Liberation Mono","fontWeight":"bold","fontSize":12.65,"lineHeight":14.2,"fill":"#222"}},
{"data":{"name":"R"},"transform":[{"filter":"datum.p=='bm'"}],"mark":{"type":"text","align":"right","baseline":"top","font":"Liberation Mono","fontWeight":"bold","fontSize":12.65,"lineHeight":14.2,"fill":"#222"}},
{"data":{"name":"sm"},"mark":{"type":"text","dx":8,"baseline":"top","font":"Liberation Mono","fontWeight":"bold","fontSize":12.65,"lineHeight":13.2,"fill":"#222"}}
]},
{"width":362,"height":108,"encoding":{"x":{"field":"bin","type":"quantitative","scale":{"domain":[0,1000]},"axis":null},"y":{"field":"v","type":"quantitative","scale":{"domain":[-26,26]},"axis":{"title":null,"values":[23,16.6,-16.9,-23.1],"labelExpr":"datum.value>20?'26.0':datum.value>0?'A':datum.value>-20?'T':'–26.0'"}},"text":{"field":"t"}},"layer":[
{"data":{"name":"gv"},"mark":{"type":"rule","style":"g"},"encoding":{"x":null}},
{"data":{"name":"rv"},"mark":{"type":"rule","stroke":"#cf4a50","strokeWidth":2},"encoding":{"y2":{"field":"v2"}}},
{"data":{"name":"bv"},"mark":{"type":"line","stroke":"#111","strokeWidth":1.2}},
{"data":{"name":"R"},"transform":[{"filter":"datum.p=='bv'"}],"mark":{"type":"text","align":"right","baseline":"top","font":"Liberation Mono","fontWeight":"bold","fontSize":12.65,"fill":"#222"}},
{"data":{"name":"sv"},"mark":{"type":"text","dx":8,"baseline":"top","font":"Liberation Mono","fontWeight":"bold","fontSize":12.65,"lineHeight":13,"fill":"#222"}}
]},
{"width":362,"height":108,"encoding":{"x":{"field":"bin","type":"quantitative","scale":{"domain":[0,1000]},"axis":null},"y":{"field":"v","type":"quantitative","scale":{"domain":[-32,95.5]},"axis":{"title":null,"values":[87.2,-9.6],"labelExpr":"datum.value>0?'95.5':'–32.0'"}},"text":{"field":"t"}},"layer":[
{"data":{"name":"gp"},"mark":{"type":"rule","style":"g"},"encoding":{"x":null}},
{"data":{"name":"rp"},"mark":{"type":"rule","stroke":"#cf4a50","strokeWidth":2},"encoding":{"y2":{"field":"v2"}}},
{"data":{"name":"bp"},"mark":{"type":"line","stroke":"#111","strokeWidth":3}},
{"data":{"name":"R"},"transform":[{"filter":"datum.p=='bp'"}],"mark":{"type":"text","align":"right","baseline":"top","font":"Liberation Mono","fontWeight":"bold","fontSize":12.65,"fill":"#222"}},
{"data":{"name":"sp"},"mark":{"type":"text","dx":8,"baseline":"top","font":"Liberation Mono","fontWeight":"bold","fontSize":12.65,"lineHeight":13,"fill":"#222"}}
]},
{"width":362,"height":106,"encoding":{"x":{"field":"bin","type":"quantitative","scale":{"domain":[0,1000]},"axis":null},"y":{"field":"v","type":"quantitative","scale":{"domain":[-32,95.5]},"axis":{"title":null,"values":[87.2,-9.6],"labelExpr":"datum.value>0?'95.5':'–32.0'"}},"text":{"field":"t"}},"layer":[
{"data":{"name":"gp"},"mark":{"type":"rule","style":"g"},"encoding":{"x":null}},
{"data":{"name":"rc"},"mark":{"type":"rule","stroke":"#cf4a50","strokeWidth":2},"encoding":{"y2":{"field":"v2"}}},
{"data":{"name":"bp"},"mark":{"type":"line","stroke":"#111","strokeWidth":3}},
{"data":{"name":"L"},"transform":[{"filter":"datum.p=='bc'"}],"mark":{"type":"text","align":"left","baseline":"top","font":"Liberation Mono","fontWeight":"bold","fontSize":12.65,"fill":"#222"}},
{"data":{"name":"R"},"transform":[{"filter":"datum.p=='bc'"}],"mark":{"type":"text","align":"right","baseline":"top","font":"Liberation Mono","fontWeight":"bold","fontSize":12.65,"fill":"#222"}},
{"data":{"name":"sc"},"mark":{"type":"text","dx":8,"baseline":"top","font":"Liberation Mono","fontWeight":"bold","fontSize":12.65,"lineHeight":13,"fill":"#222"}}
]}
]}
]}
]}
]},
{"width":458,"height":270,"view":{"stroke":null},"data":{"name":"T"},"encoding":{"x":{"datum":0,"type":"quantitative","scale":{"domain":[0,1]},"axis":null},"y":{"field":"line","type":"quantitative","scale":{"domain":[-1.218,8],"reverse":true},"axis":null},"text":{"field":"t"}},"layer":[
{"transform":[{"filter":"datum.c=='h'"}],"mark":{"type":"text","dx":214,"align":"center","font":"Liberation Sans","fontWeight":"bold","fontSize":25,"fill":"#111"}},
{"transform":[{"filter":"datum.c=='b0'"}],"mark":{"type":"text","align":"left","font":"Liberation Sans","fontWeight":"bold","fontSize":20.6,"fill":"#111"}},
{"transform":[{"filter":"datum.c=='h1'"}],"mark":{"type":"text","dx":75,"align":"left","font":"Liberation Sans","fontWeight":"bold","fontSize":20.6,"fill":"#111"}},
{"transform":[{"filter":"datum.c=='h2'"}],"mark":{"type":"text","dx":225,"align":"left","font":"Liberation Sans","fontWeight":"bold","fontSize":20.6,"fill":"#111"}},
{"transform":[{"filter":"datum.c=='h3'"}],"mark":{"type":"text","dx":337,"align":"left","font":"Liberation Sans","fontWeight":"bold","fontSize":20.6,"fill":"#111"}},
{"transform":[{"filter":"datum.c=='b2'"}],"mark":{"type":"text","dx":169,"align":"left","font":"Liberation Sans","fontWeight":"bold","fontSize":20.6,"fill":"#111"}},
{"transform":[{"filter":"datum.c=='r1'"}],"mark":{"type":"text","dx":112,"align":"left","font":"Liberation Sans","fontSize":20.7,"fill":"#111"}},
{"transform":[{"filter":"datum.c=='r2'"}],"mark":{"type":"text","dx":258,"align":"right","font":"Liberation Sans","fontSize":20.7,"fill":"#111"}},
{"transform":[{"filter":"datum.c=='h3r'"}],"mark":{"type":"text","dx":337,"align":"left","font":"Liberation Sans","fontSize":20.7,"fill":"#111"}},
{"transform":[{"filter":"datum.c=='v1'"}],"mark":{"type":"text","dx":57,"align":"left","font":"Liberation Sans","fontSize":20.7,"fill":"#111"}},
{"transform":[{"filter":"datum.c=='v2'"}],"mark":{"type":"text","dx":282,"align":"left","font":"Liberation Sans","fontSize":20.7,"fill":"#111"}}
]},
{"width":458,"height":287.6,"view":{"stroke":null},"data":{"name":"P"},"encoding":{"x":{"datum":0,"type":"quantitative","scale":{"domain":[0,1]},"axis":null},"y":{"field":"line","type":"quantitative","scale":{"domain":[-0.983,11],"reverse":true},"axis":null},"text":{"field":"t"}},"layer":[
{"transform":[{"filter":"datum.c=='A'"}],"mark":{"type":"text","align":"left","font":"Liberation Serif","fontWeight":"bold","fontSize":21,"fill":"#111"}},
{"transform":[{"filter":"datum.c=='n'"}],"mark":{"type":"text","align":"left","font":"Liberation Serif","fontSize":21.1,"fill":"#111"}},
{"transform":[{"filter":"datum.c=='q'"}],"mark":{"type":"text","align":"left","font":"Liberation Serif","fontSize":20.75,"fill":"#111"}},
{"transform":[{"filter":"datum.c=='a'"}],"mark":{"type":"text","dx":109,"align":"left","font":"Liberation Serif","fontSize":20.9,"fill":"#111"}},
{"transform":[{"filter":"datum.c=='b'"}],"mark":{"type":"text","dx":93,"align":"left","font":"Liberation Serif","fontSize":20.6,"fill":"#111"}},
{"transform":[{"filter":"datum.c=='d'"}],"mark":{"type":"text","dx":95,"align":"left","font":"Liberation Serif","fontSize":21.1,"fill":"#111"}},
{"transform":[{"filter":"datum.c=='e'"}],"mark":{"type":"text","dx":100,"align":"left","font":"Liberation Serif","fontSize":21,"fill":"#111"}},
{"transform":[{"filter":"datum.c=='f'"}],"mark":{"type":"text","dx":138,"align":"left","font":"Liberation Serif","fontSize":21.7,"fill":"#111"}}
]}
]}
]}
]}
]},
{"width":971,"height":27,"view":{"stroke":null},"encoding":{"x":{"datum":0.5,"type":"quantitative","scale":{"domain":[0,1]},"axis":null},"y":{"datum":0.11,"type":"quantitative","scale":{"domain":[0,1]},"axis":null}},"layer":[
{"data":{"values":[{"t":"5–31"}]},"mark":{"type":"text","font":"Liberation Serif","fontStyle":"italic","fontSize":20.7,"fill":"#111"},"encoding":{"x":{"datum":0.505},"text":{"field":"t"}}},
{"data":{"values":[{"t":"rule"}]},"mark":{"type":"rule","stroke":"#111","strokeWidth":1},"encoding":{"x":null,"y":{"datum":0.704}}}
]}
]}
